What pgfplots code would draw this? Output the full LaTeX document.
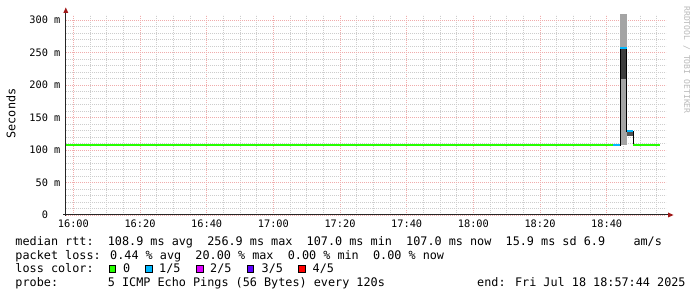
\documentclass[border=0pt]{standalone}
\usepackage{pgfplots}
\pgfplotsset{compat=1.18}
\usepackage{fontspec}
\newfontfamily\dvm{DejaVu Sans Mono}
\definecolor{lossA}{HTML}{26FF00}
\definecolor{lossB}{HTML}{00B8FF}
\definecolor{lossC}{HTML}{DD00FF}
\definecolor{lossD}{HTML}{5E00FF}
\definecolor{lossE}{HTML}{FF0000}
\definecolor{smokeL}{HTML}{A4A4A4}
\definecolor{smokeD}{HTML}{3E3E3E}
\definecolor{smokeD2}{HTML}{525252}
\definecolor{mgrid}{RGB}{240,172,172}
\definecolor{ngrid}{RGB}{205,205,205}
\definecolor{arrowred}{RGB}{160,25,25}
\definecolor{wmark}{RGB}{185,185,185}
\begin{document}
\begin{tikzpicture}
\begin{axis}[
  name=ax, at={(65.8bp,82bp)}, anchor=south west,
  scale only axis, width=600bp, height=200bp,
  xmin=-2.2667, xmax=177.7333, ymin=0, ymax=307.69,
  axis line style={draw=none},
  tick style={draw=none},
  major tick length=0pt, minor tick length=0pt,
  xtick={0,20,40,60,80,100,120,140,160},
  xticklabels={16:00,16:20,16:40,17:00,17:20,17:40,18:00,18:20,18:40},
  minor xtick={5,10,15,25,30,35,45,50,55,65,70,75,85,90,95,105,110,115,125,130,135,145,150,155,165,170,175},
  ytick={0,50,100,150,200,250,300},
  yticklabels={{0\hphantom{~m}},{50 m},{100 m},{150 m},{200 m},{250 m},{300 m}},
  minor ytick={10,20,30,40,60,70,80,90,110,120,130,140,160,170,180,190,210,220,230,240,260,270,280,290},
  xmajorgrids, xminorgrids, ymajorgrids, yminorgrids,
  major grid style={mgrid, line width=0.7bp, dash pattern=on 1bp off 1bp},
  minor grid style={ngrid, line width=0.7bp, dash pattern=on 1bp off 1bp},
  ticklabel style={font=\fontsize{10.3bp}{12bp}\dvm, text=black, inner sep=0pt},
  xticklabel style={anchor=base, yshift=-13bp},
  yticklabel style={anchor=east, xshift=-5.2bp},
]
% smoke
\addplot[fill=smokeL, draw=none] coordinates {(164,107) (164,330) (166,330) (166,107)} -- cycle;
\addplot[fill=smokeD, draw=none] coordinates {(164,209.2) (164,256.9) (166,256.9) (166,209.2)} -- cycle;
\addplot[fill=smokeD2, draw=none] coordinates {(166,122) (166,129.2) (168,129.2) (168,122)} -- cycle;
% median line
\addplot[const plot, black, line width=1bp] coordinates {(-2.2667,107) (162,107) (164,256.9) (166,129.2) (168,107) (176,107)};
% loss colour bands
\addplot[lossA, line width=2bp, unbounded coords=jump] coordinates {(-2.2667,107) (162,107) (162,nan) (168,107) (176,107)};
\addplot[lossB, line width=2bp, unbounded coords=jump] coordinates {(162,107) (164,107) (164,nan) (164,256.9) (166,256.9) (166,nan) (166,129.2) (168,129.2)};
\end{axis}
% axis lines with arrows
\draw[line width=1bp, black!85] (63.3bp,82bp) -- (668.5bp,82bp);
\fill[arrowred] (668bp,79.5bp) -- (673.5bp,82bp) -- (668bp,84.5bp) -- cycle;
\draw[line width=1bp, black!85] (65.8bp,81.3bp) -- (65.8bp,284.5bp);
\fill[arrowred] (63.3bp,284bp) -- (65.8bp,289.5bp) -- (68.3bp,284bp) -- cycle;
% y label
\node[rotate=90, font=\fontsize{11.8bp}{14bp}\dvm, inner sep=0pt] at (11bp,183.5bp) {Seconds};
% watermark
\node[rotate=-90, font=\fontsize{8.1bp}{10bp}\dvm, text=wmark, inner sep=0pt] at (686.8bp,237bp) {RRDTOOL / TOBI OETIKER};
% legend text
\begin{scope}[every node/.style={anchor=base west, inner sep=0pt, font=\fontsize{11.8bp}{14bp}\dvm}]
\node at (15.3bp,51.8bp) {median rtt:~~108.9 ms avg~~256.9 ms max~~107.0 ms min~~107.0 ms now~~15.9 ms sd 6.9~~~~am/s};
\node at (15.3bp,38bp) {packet loss: 0.44 \% avg~~20.00 \% max~~0.00 \% min~~0.00 \% now};
\node at (15.3bp,24.2bp) {loss color:};
\node at (123bp,24.2bp) {0};
\node at (159bp,24.2bp) {1/5};
\node at (210bp,24.2bp) {2/5};
\node at (261.5bp,24.2bp) {3/5};
\node at (312.5bp,24.2bp) {4/5};
\node at (15.3bp,10.4bp) {probe:~~~~~~~5 ICMP Echo Pings (56 Bytes) every 120s};
\node at (477bp,10.4bp) {end: Fri Jul 18 18:57:44 2025};
\end{scope}
\foreach \x/\c in {109/lossA,145.5/lossB,196.5/lossC,247/lossD,298.5/lossE}{
  \filldraw[fill=\c, draw=black, line width=1bp] (\x bp,24.8bp) rectangle ++(6.6bp,6.6bp);
}
\pgfresetboundingbox
\path (0,0) rectangle (697bp,297bp);
\end{tikzpicture}
\end{document}
